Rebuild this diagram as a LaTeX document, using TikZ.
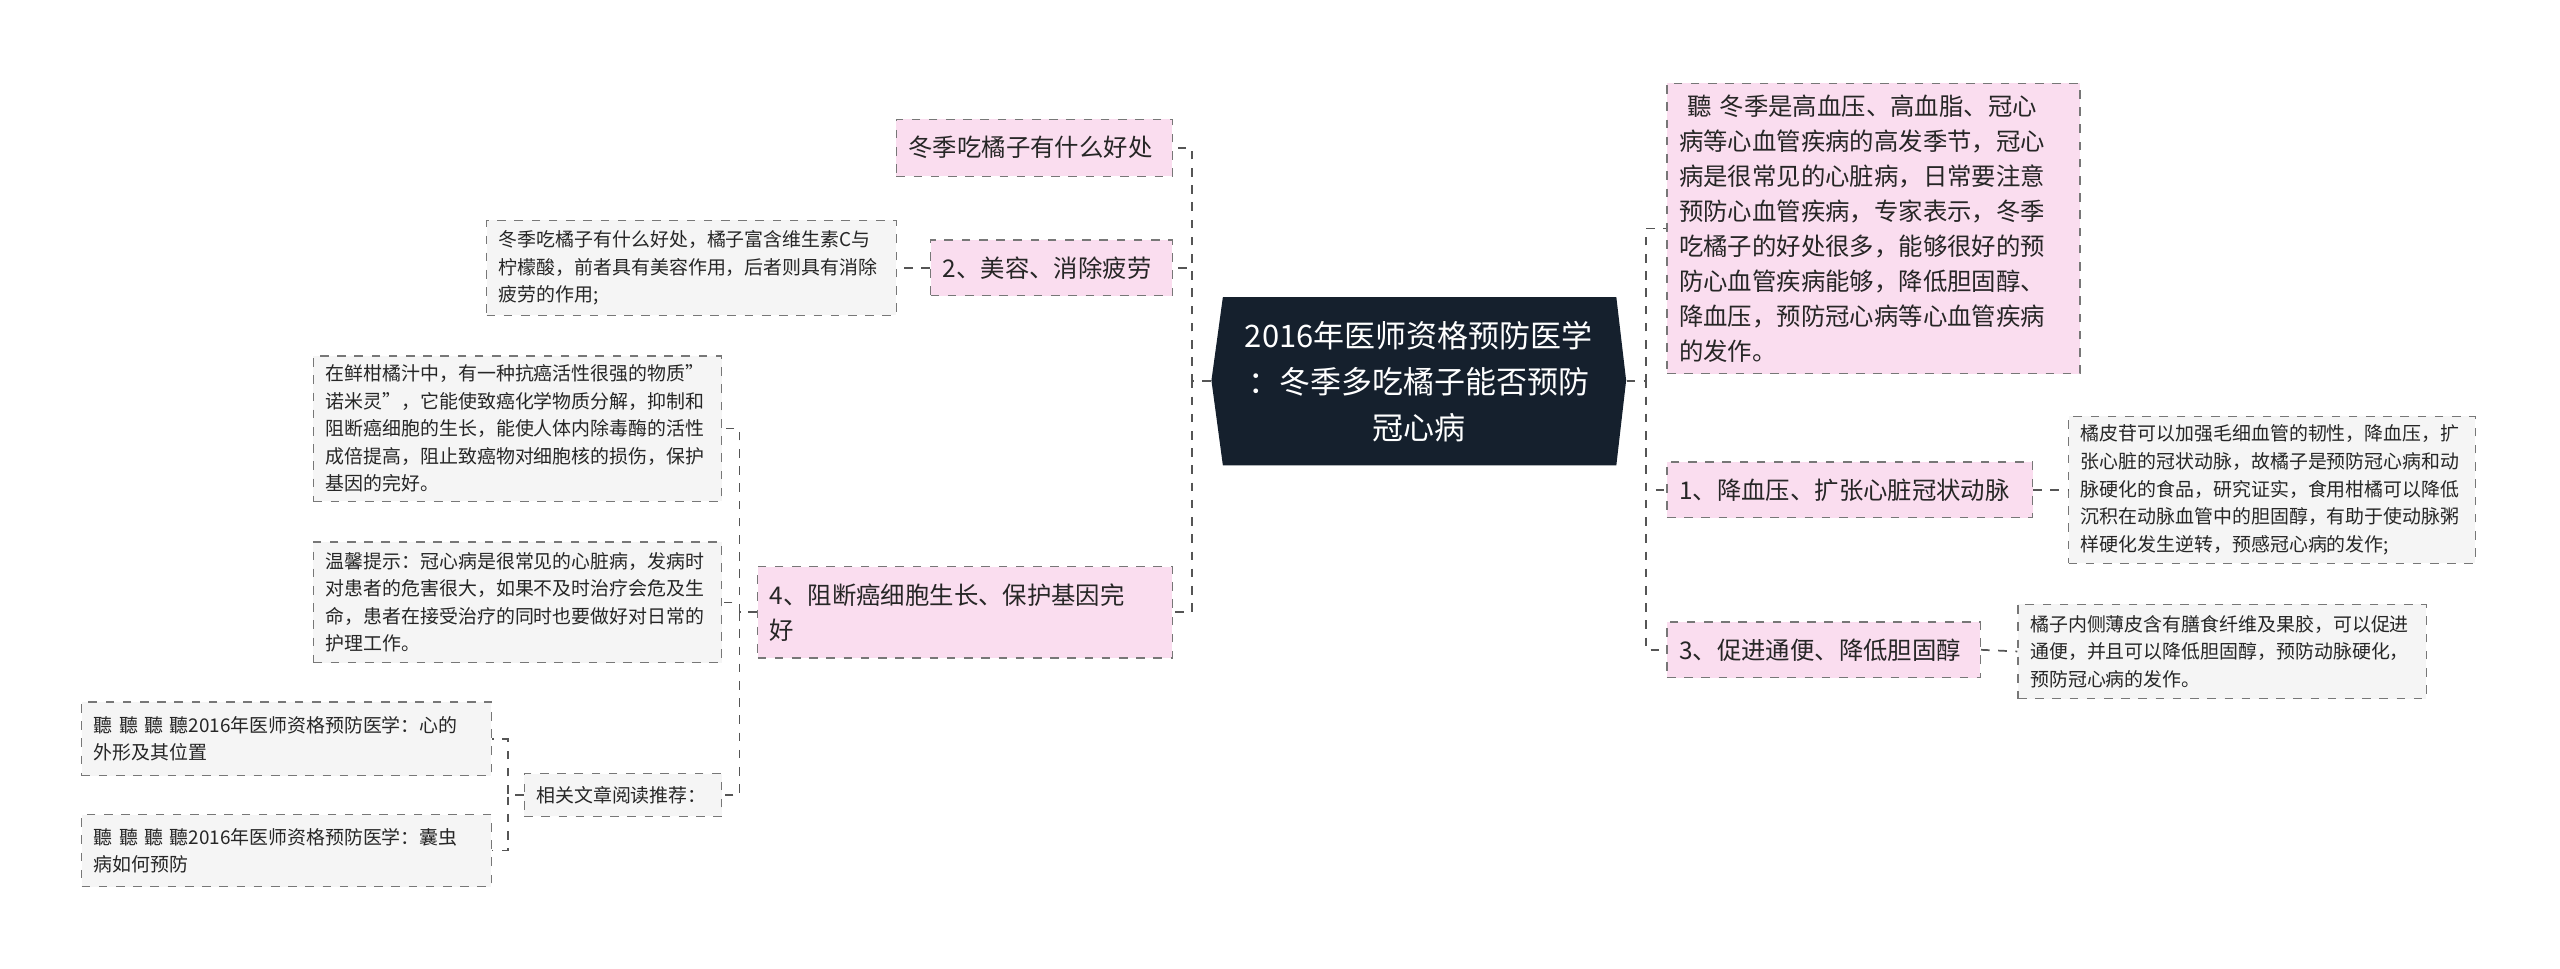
\documentclass[tikz,border=0pt]{standalone}
\usepackage{fontspec}
\setmainfont{Noto Sans CJK SC}
\definecolor{pinkf}{HTML}{FADDEF}
\definecolor{grayf}{HTML}{F5F5F5}
\definecolor{navy}{HTML}{15202D}
\definecolor{ln}{HTML}{555555}
\tikzset{
 pbox/.style={draw=ln!80,dashed,fill=pinkf,inner xsep=0.15cm,inner ysep=0pt,align=left,font=\fontsize{8.5pt}{12.2pt}\selectfont,text=black!85},
 gbox/.style={draw=ln!80,dashed,fill=grayf,inner xsep=0.12cm,inner ysep=0pt,align=left,font=\fontsize{6.6pt}{9.6pt}\selectfont,text=black!85},
 conn/.style={draw=ln,dashed,line width=0.6pt},
}
\newcommand\bx[7]{\pgfmathsetmacro\ww{(#4-#2)*0.02}\pgfmathsetmacro\hh{(#5-#3)*0.02}\pgfmathsetmacro\tw{(#4-#2)*0.02-0.3}%
\node[#6,minimum width=\ww cm,minimum height=\hh cm,text width=\tw cm] (#1) at ({(#2+#4)/2},{(#3+#5)/2}) {#7};}
\begin{document}
\begin{tikzpicture}[x=0.02cm,y=-0.02cm]
\useasboundingbox[fill=white] (0,0) rectangle (1568,593);
% central
\fill[navy] (749,182)--(990,182)--(996,233)--(990,285)--(749,285)--(742,233)--cycle;
\node[minimum width=5.08cm,minimum height=2.06cm,inner sep=0pt,text=white,align=center,font=\fontsize{10.8pt}{16pt}\selectfont] (c) at (869,233.5) {2016年医师资格预防医学\\：冬季多吃橘子能否预防\\冠心病};
% right
\bx{r0}{1021}{51}{1274}{229}{pbox}{\ 聽 冬季是高血压、高血脂、冠心\\病等心血管疾病的高发季节，冠心\\病是很常见的心脏病，日常要注意\\预防心血管疾病，专家表示，冬季\\吃橘子的好处很多，能够很好的预\\防心血管疾病能够，降低胆固醇、\\降血压，预防冠心病等心血管疾病\\的发作。}
\bx{r1}{1021}{283}{1245}{317}{pbox}{1、降血压、扩张心脏冠状动脉}
\bx{r1a}{1267}{255}{1516}{345}{gbox}{橘皮苷可以加强毛细血管的韧性，降血压，扩\\张心脏的冠状动脉，故橘子是预防冠心病和动\\脉硬化的食品，研究证实，食用柑橘可以降低\\沉积在动脉血管中的胆固醇，有助于使动脉粥\\样硬化发生逆转，预感冠心病的发作;}
\bx{r2}{1021}{381}{1213}{415}{pbox}{3、促进通便、降低胆固醇}
\bx{r2a}{1236}{370}{1486}{428}{gbox}{橘子内侧薄皮含有膳食纤维及果胶，可以促进\\通便，并且可以降低胆固醇，预防动脉硬化，\\预防冠心病的发作。}
% left
\bx{l1}{549}{73}{718}{108}{pbox}{冬季吃橘子有什么好处}
\bx{l2}{570}{147}{718}{181}{pbox}{2、美容、消除疲劳}
\bx{l2a}{298}{135}{549}{193}{gbox}{冬季吃橘子有什么好处，橘子富含维生素C与\\柠檬酸，前者具有美容作用，后者则具有消除\\疲劳的作用;}
\bx{l3}{464}{347}{718}{403}{pbox}{4、阻断癌细胞生长、保护基因完\\好}
\bx{l3a}{192}{218}{442}{307}{gbox}{在鲜柑橘汁中，有一种抗癌活性很强的物质"\\诺米灵"，它能使致癌化学物质分解，抑制和\\阻断癌细胞的生长，能使人体内除毒酶的活性\\成倍提高，阻止致癌物对细胞核的损伤，保护\\基因的完好。}
\bx{l3b}{192}{332}{442}{406}{gbox}{温馨提示：冠心病是很常见的心脏病，发病时\\对患者的危害很大，如果不及时治疗会危及生\\命，患者在接受治疗的同时也要做好对日常的\\护理工作。}
\bx{l3c}{321}{474}{442}{500}{gbox}{相关文章阅读推荐：}
\bx{l3c1}{50}{430}{301}{475}{gbox}{聽 聽 聽 聽2016年医师资格预防医学：心的\\外形及其位置}
\bx{l3c2}{50}{499}{301}{543}{gbox}{聽 聽 聽 聽2016年医师资格预防医学：囊虫\\病如何预防}
% connectors
\foreach \n in {r0,r1,r2} \draw[conn] (c.east) -- (1008,233.5) |- (\n.west);
\foreach \n in {l1,l2,l3} \draw[conn] (c.west) -- (730,233.5) |- (\n.east);
\draw[conn] (l2.west) -- (l2a.east);
\draw[conn] (r1.east) -- (r1a.west);
\draw[conn] (r2.east) -- (r2a.west);
\foreach \n in {l3a,l3b,l3c} \draw[conn] (l3.west) -- (453,375) |- (\n.east);
\foreach \n in {l3c1,l3c2} \draw[conn] (l3c.west) -- (311,487) |- (\n.east);
\end{tikzpicture}
\end{document}
